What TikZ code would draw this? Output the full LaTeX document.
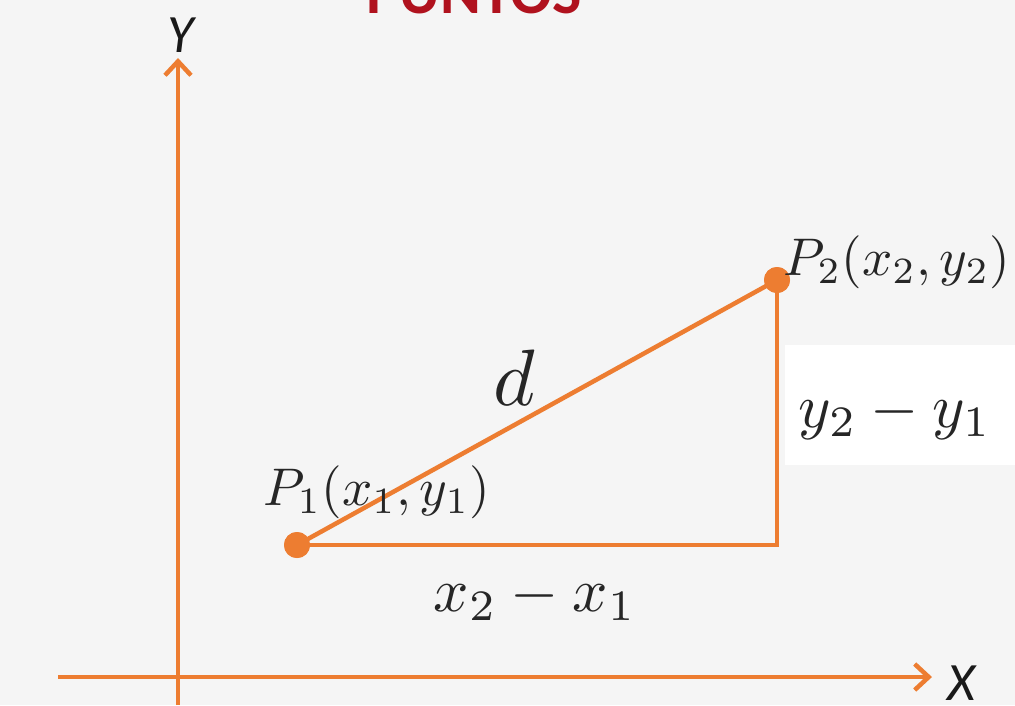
\documentclass[tikz,border=0pt]{standalone}
\usepackage{fontspec}
\newfontfamily\carl{Carlito}
\usetikzlibrary{arrows.meta}
\definecolor{org}{HTML}{ED7D31}
\definecolor{bg}{HTML}{F5F5F5}
\definecolor{ttl}{HTML}{B0121E}
\begin{document}
\begin{tikzpicture}[x=1pt,y=-1pt,
  ln/.style={draw=org,line width=4.5pt},
  ax/.style={draw=org,line width=4.5pt,-{Straight Barb[length=14pt,width=26pt,line width=4.5pt]}},
  pt/.style={circle,fill=org,inner sep=0pt,minimum size=26pt},
  mth/.style={inner sep=0pt,text=black!85},
  axl/.style={inner sep=0pt,font=\carl\itshape\fontsize{54}{54}\selectfont,text=black!90}]
\fill[bg] (0,0) rectangle (1015,705);
\fill[white] (785,345) rectangle (1015,465);
\useasboundingbox (0,0) rectangle (1015,705);
\node[inner sep=0pt,anchor=base,text=ttl,font=\carl\bfseries\fontsize{62}{62}\selectfont] (title) at (474,13) {PUNTOS};
% axes
\coordinate (yb) at (178,705);
\coordinate (yt) at (178,58);
\coordinate (xl) at (58,677);
\coordinate (xr) at (932,677);
\draw[ax] (yb) -- (yt);
\draw[ax] (xl) -- (xr);
\node[axl] (Y) at (181,35) {Y};
\node[axl] (X) at (962,683) {X};
% points
\node[pt] (P1) at (297,545) {};
\node[pt] (P2) at (777,280) {};
\coordinate (C) at (777,545);
\draw[ln] (P1.center) -- (C) -- (P2.center);
\draw[ln] (P1.center) -- (P2.center);
\node[pt] at (P1) {};
\node[pt] at (P2) {};
% labels
\node[mth] (d) at (514,378) {\scalebox{8}{$d$}};
\node[mth] (l1) at (377,492) {\scalebox{5.3}{$P_1(x_1,y_1)$}};
\node[mth] (l2) at (897,262) {\scalebox{5.3}{$P_2(x_2,y_2)$}};
\node[mth] (dy) at (895,415) {\scalebox{6.2}{$y_2-y_1$}};
\node[mth] (dx) at (535,598) {\scalebox{6.2}{$x_2-x_1$}};
\end{tikzpicture}
\end{document}
